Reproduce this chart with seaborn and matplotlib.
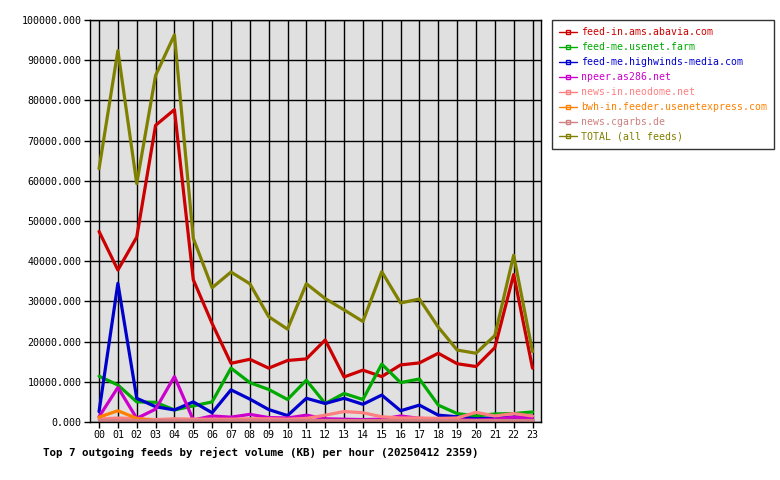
import matplotlib
matplotlib.use("Agg")
import matplotlib.pyplot as plt
from matplotlib.lines import Line2D
import seaborn as sns
import pandas as pd

hours = [f"{h:02d}" for h in range(24)]

feeds = ["feed-in.ams.abavia.com", "feed-me.usenet.farm", "feed-me.highwinds-media.com",
         "npeer.as286.net", "news-in.neodome.net", "bwh-in.feeder.usenetexpress.com",
         "news.cgarbs.de", "TOTAL (all feeds)"]
colors = ["#CC0000", "#00AA00", "#0000CC", "#CC00CC", "#FF8080", "#FF8000", "#D08080", "#808000"]

abavia = [47400, 37800, 46000, 73800, 77700, 35400, 24500, 14600, 15600, 13400, 15300, 15700,
          20400, 11200, 12900, 11300, 14200, 14700, 17100, 14500, 13800, 18500, 36700, 13400]
usenetfarm = [11400, 9200, 5000, 4900, 3000, 4000, 5000, 13400, 9800, 8100, 5600, 10400,
              4600, 7100, 5600, 14400, 9800, 10700, 4200, 2100, 1500, 2000, 2100, 2500]
highwinds = [2600, 34500, 5900, 3800, 3000, 5000, 2300, 8000, 5700, 3100, 1600, 5900,
             4600, 5900, 4400, 6700, 2800, 4200, 1700, 1300, 800, 1000, 1200, 1500]
npeer = [1300, 8600, 900, 3200, 11300, 500, 1500, 1200, 1900, 1100, 1000, 1700,
         800, 700, 600, 700, 1500, 900, 700, 600, 500, 700, 1200, 900]
neodome = [700, 1000, 800, 600, 800, 700, 700, 700, 800, 800, 700, 900,
           1700, 2600, 2300, 1300, 1000, 1000, 900, 1000, 2400, 1500, 2100, 1500]
usenetexpress = [1200, 2800, 900, 300, 300, 200, 300, 300, 0, 300, 300, 300,
                 300, 300, 300, 300, 400, 300, 300, 300, 300, 300, 300, 300]
cgarbs = [400, 400, 400, 400, 400, 400, 400, 400, 400, 400, 400, 400,
          400, 400, 400, 400, 400, 400, 400, 400, 400, 400, 400, 400]
total = [63000, 92400, 59300, 86200, 96300, 45700, 33400, 37300, 34400, 26200, 23100, 34400,
         30700, 27900, 25000, 37400, 29600, 30600, 23600, 17900, 17100, 21500, 41500, 17500]

series = [abavia, usenetfarm, highwinds, npeer, neodome, usenetexpress, cgarbs, total]

rows = []
for name, vals in zip(feeds, series):
    for h, v in enumerate(vals):
        rows.append({"hour": h, "value": v, "feed": name})
df = pd.DataFrame(rows)

sns.set_theme(style="white")
plt.rcParams["font.family"] = ["DejaVu Sans Mono"]

fig = plt.figure(figsize=(7.8, 4.8), dpi=100)
ax = fig.add_axes([90 / 780, 58 / 480, 451 / 780, 402 / 480])
ax.set_facecolor("#E0E0E0")

sns.lineplot(data=df, x="hour", y="value", hue="feed", hue_order=feeds,
             palette=dict(zip(feeds, colors)), linewidth=2.3, ax=ax, legend=False,
             sort=False)

ax.set_xlim(-0.48, 23.45)
ax.set_ylim(0, 100000)
ax.set_xticks(range(24))
ax.set_xticklabels(hours, fontsize=7.2)
ax.set_yticks(range(0, 100001, 10000))
ax.set_yticklabels([f"{v:.3f}" for v in range(0, 100001, 10000)], fontsize=7.2)
ax.grid(True, color="black", linewidth=1, linestyle="-")
ax.set_axisbelow(True)
for s in ax.spines.values():
    s.set_color("black")
    s.set_linewidth(1)
ax.tick_params(axis="both", direction="out", length=4, width=1, color="black",
               labelcolor="black", pad=2, bottom=True, left=True)
ax.set_xlabel("")
ax.set_ylabel("")
fig.text(261 / 780, 1 - 452 / 480,
         "Top 7 outgoing feeds by reject volume (KB) per hour (20250412 2359)",
         fontsize=7.8, fontweight="bold", ha="center", va="center", color="black")

handles = [Line2D([0], [0], color=c, linewidth=1, marker="s", markersize=3,
                  markerfacecolor="none", markeredgecolor=c) for c in colors]
leg = fig.legend(handles, feeds, loc="upper left", bbox_to_anchor=(552 / 780, 1 - 20 / 480),
                 frameon=True, fontsize=7.1, handlelength=1.8, handletextpad=0.4,
                 labelspacing=0.5, borderpad=0.75, fancybox=False, borderaxespad=0)
leg.get_frame().set_edgecolor("black")
leg.get_frame().set_linewidth(1)
for t, c in zip(leg.get_texts(), colors):
    t.set_color(c)

fig.savefig("out.png", dpi=100)
